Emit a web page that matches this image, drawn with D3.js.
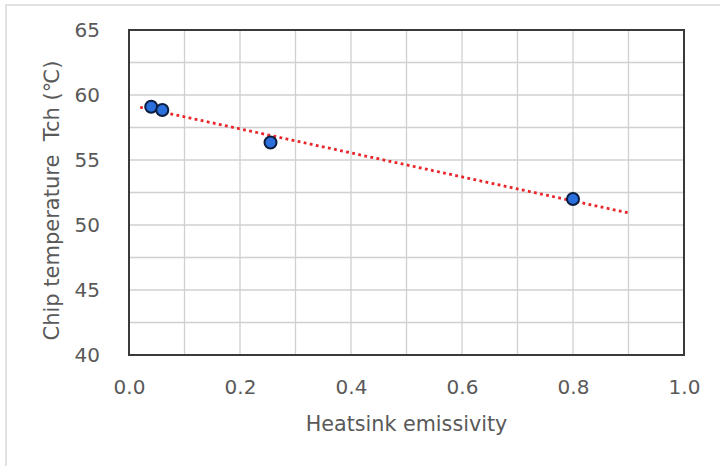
<!DOCTYPE html>
<html>
<head>
<meta charset="utf-8">
<script src="https://cdn.jsdelivr.net/npm/d3@7"></script>
<style>
  body { margin: 0; background: #fff; }
  text { font-family: "DejaVu Sans", Verdana, sans-serif; fill: #595959; }
</style>
</head>
<body>
<div id="chart"></div>
<script>
// measured points
var emissivity = [0.04, 0.06, 0.255, 0.80];
var chipTemp = [59.1, 58.85, 56.35, 52.0];
var xTicks = [0.0, 0.2, 0.4, 0.6, 0.8, 1.0];
var yTicks = [40, 45, 50, 55, 60, 65];
var trendRange = [0.02, 0.9];

var width = 720, height = 466;
var margin = { top: 30, right: 36, bottom: 111, left: 129 };

var svg = d3.select("#chart").append("svg")
  .attr("width", width)
  .attr("height", height);

// outer chart border
svg.append("rect")
  .attr("x", 6).attr("y", 5)
  .attr("width", 740).attr("height", 480)
  .attr("fill", "none")
  .attr("stroke", "#d9d9d9")
  .attr("stroke-width", 1.5);

var x = d3.scaleLinear().domain([0, 1]).range([margin.left, width - margin.right]);
var y = d3.scaleLinear().domain([40, 65]).range([height - margin.bottom, margin.top]);

var g = svg.append("g");

// grid
g.selectAll(".vgrid")
  .data(d3.range(1, 10).map(function (i) { return i / 10; }))
  .enter().append("line")
  .attr("x1", function (d) { return x(d); })
  .attr("x2", function (d) { return x(d); })
  .attr("y1", y(40)).attr("y2", y(65))
  .attr("stroke", "#d0d0d0").attr("stroke-width", 1.3);

g.selectAll(".hgrid")
  .data(d3.range(1, 10).map(function (i) { return 40 + i * 2.5; }))
  .enter().append("line")
  .attr("y1", function (d) { return y(d); })
  .attr("y2", function (d) { return y(d); })
  .attr("x1", x(0)).attr("x2", x(1))
  .attr("stroke", "#d0d0d0").attr("stroke-width", 1.3);

// plot frame
g.append("rect")
  .attr("x", x(0)).attr("y", y(65))
  .attr("width", x(1) - x(0)).attr("height", y(40) - y(65))
  .attr("fill", "none")
  .attr("stroke", "#3a3a3a")
  .attr("stroke-width", 2);

// axes labels
var xAxis = d3.axisBottom(x).tickValues(xTicks).tickSize(0).tickPadding(25)
  .tickFormat(d3.format(".1f"));
var xg = svg.append("g").attr("transform", "translate(0," + y(40) + ")").call(xAxis);
xg.select(".domain").remove();
xg.selectAll("text").attr("font-size", 20).attr("font-family", null);

var yAxis = d3.axisLeft(y).tickValues(yTicks).tickSize(0).tickPadding(29);
var yg = svg.append("g").attr("transform", "translate(" + x(0) + ",0)").call(yAxis);
yg.select(".domain").remove();
yg.selectAll("text").attr("font-size", 20).attr("font-family", null);

// linear trendline (least squares)
var mx = d3.mean(emissivity), my = d3.mean(chipTemp);
var sxy = d3.sum(emissivity, function (v, i) { return (v - mx) * (chipTemp[i] - my); });
var sxx = d3.sum(emissivity, function (v) { return (v - mx) * (v - mx); });
var slope = sxy / sxx, intercept = my - slope * mx;

g.append("line")
  .attr("x1", x(trendRange[0])).attr("y1", y(intercept + slope * trendRange[0]))
  .attr("x2", x(trendRange[1])).attr("y2", y(intercept + slope * trendRange[1]))
  .attr("stroke", "#e8262a")
  .attr("stroke-width", 2.8)
  .attr("stroke-dasharray", "2.8,3.4");

// points
g.selectAll(".pt")
  .data(emissivity)
  .enter().append("circle")
  .attr("class", "pt")
  .attr("cx", function (d) { return x(d); })
  .attr("cy", function (d, i) { return y(chipTemp[i]); })
  .attr("r", 6)
  .attr("fill", "#2a6fdc")
  .attr("stroke", "#0b1d3f")
  .attr("stroke-width", 2);

// axis titles
svg.append("text")
  .attr("x", (x(0) + x(1)) / 2)
  .attr("y", 431)
  .attr("text-anchor", "middle")
  .attr("font-size", 20.7)
  .text("Heatsink emissivity");

svg.append("text")
  .attr("transform", "translate(59," + ((y(40) + y(65)) / 2 + 8) + ") rotate(-90)")
  .attr("text-anchor", "middle")
  .attr("font-size", 21)
  .text("Chip temperature\u00a0\u00a0Tch (\u2103)");
</script>
</body>
</html>
